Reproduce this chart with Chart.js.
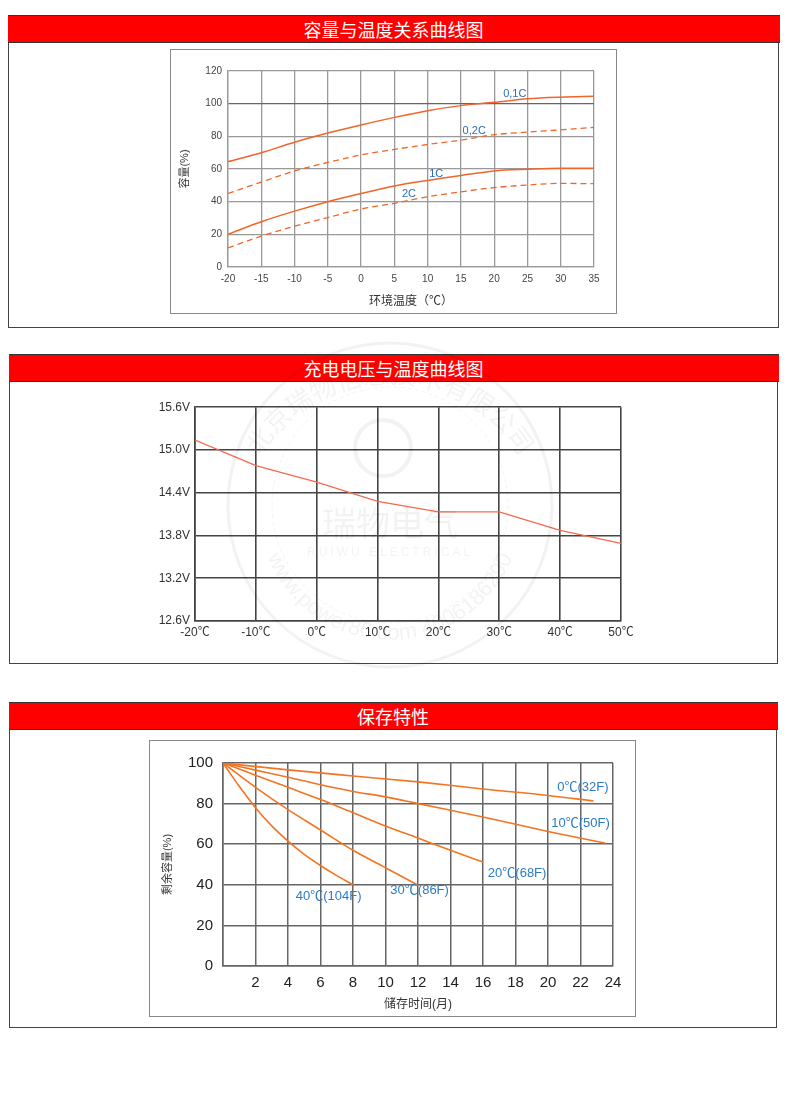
<!DOCTYPE html>
<html>
<head>
<meta charset="utf-8">
<script src="https://cdn.jsdelivr.net/npm/chart.js@4.4.0/dist/chart.umd.min.js"></script>
<style>
  body { margin: 0; background: #fff; width: 790px; height: 1109px; position: relative; overflow: hidden;
         font-family: "Liberation Sans", Arial, "Noto Sans CJK SC", sans-serif; }
  .sec { position: absolute; border: 1.5px solid #444; border-top: none; box-sizing: border-box; }
  .bar { position: absolute; left: -1.5px; right: -1.5px; top: 0; background: #ff0000; color: #fff;
         border-top: 1px solid #333; border-bottom: 1px solid #333; box-sizing: border-box;
         text-align: center; font-family: "Noto Sans CJK SC", sans-serif; font-size: 18px; line-height: 26px; }
  .frame { position: absolute; border: 1.5px solid #888; box-sizing: border-box; }
  canvas { position: absolute; }
  #wm { position: absolute; left: 0; top: 0; pointer-events: none; }
</style>
</head>
<body>

<div class="sec" style="left:8px; top:15px; width:771px; height:313px;">
  <div class="bar">容量与温度关系曲线图</div>
</div>
<div class="frame" style="left:170px; top:49px; width:447px; height:265px;"></div>
<canvas id="c1" width="446" height="264" style="left:170px; top:49px;"></canvas>

<div class="sec" style="left:9px; top:354px; width:769px; height:310px;">
  <div class="bar">充电电压与温度曲线图</div>
</div>
<canvas id="c2" width="490" height="250" style="left:150px; top:395px;"></canvas>

<div class="sec" style="left:9px; top:702px; width:768px; height:326px;">
  <div class="bar">保存特性</div>
</div>
<div class="frame" style="left:149px; top:740px; width:487px; height:277px;"></div>
<canvas id="c3" width="486" height="276" style="left:149px; top:740px;"></canvas>

<svg id="wm" width="790" height="1109">
  <defs>
    <path id="ring" d="M 240 560 A 152 152 0 1 1 540 560"/>
    <path id="ring2" d="M 262 540 A 132 132 0 0 0 518 540"/>
  </defs>
  <g fill="none" stroke="rgba(0,0,0,0.05)">
    <circle cx="390" cy="505" r="162" stroke-width="3"/>
    <circle cx="390" cy="505" r="118" stroke-width="1" stroke-dasharray="4 3"/>
    <circle cx="383" cy="448" r="28" stroke-width="4"/>
  </g>
  <g fill="rgba(0,0,0,0.05)" font-family="Noto Sans CJK SC, sans-serif">
    <text font-size="26"><textPath href="#ring" startOffset="50%" text-anchor="middle">北京瑞物信息技术有限公司</textPath></text>
    <text font-size="22" font-family="Liberation Sans, sans-serif"><textPath href="#ring2" startOffset="50%" text-anchor="middle">www.power86.com 4006186290</textPath></text>
    <text x="390" y="536" font-size="34" text-anchor="middle">瑞物电气</text>
    <text x="390" y="556" font-size="12" text-anchor="middle" letter-spacing="3" font-family="Liberation Sans, sans-serif">RUIWU ELECTRICAL</text>
  </g>
</svg>

<script>
// ---- chart 1: capacity vs temperature ----
const temps1 = [-20, -15, -10, -5, 0, 5, 10, 15, 20, 25, 30, 35];
const cap01C = [64.5, 70, 76.4, 82, 87, 91.6, 95.7, 98.8, 100.8, 103, 104, 104.5];
const cap02C = [45, 52, 58.8, 64, 68.6, 72, 75, 77.7, 81, 82.6, 84, 85.5];
const cap1C  = [20, 27.7, 34.2, 40, 45, 49.6, 53, 56, 58.8, 59.8, 60.4, 60.4];
const cap2C  = [11.7, 18.9, 25, 30.3, 35.5, 39, 43, 46, 48.6, 50.2, 51.2, 51];
const labels1 = [
  { text: '0,1C', x: 23.1, y: 105.7 },
  { text: '0,2C', x: 17, y: 83.5 },
  { text: '1C', x: 11.3, y: 57 },
  { text: '2C', x: 7.2, y: 45 }
];

// ---- chart 2: charge voltage vs temperature ----
const temps2 = [-20, -10, 0, 10, 20, 30, 40, 50];
const volts = [15.14, 14.78, 14.55, 14.28, 14.13, 14.13, 13.87, 13.69];

// ---- chart 3: storage characteristics ----
const months0  = [0, 4, 8, 12, 16, 20, 22.8];
const keep0    = [100, 96.6, 93.6, 90.7, 87.2, 84, 81.3];
const months10 = [0, 2, 4, 6, 8, 10, 12, 16, 20, 23.5];
const keep10   = [100, 96.5, 93, 89.3, 86, 83.3, 80, 73.4, 66.3, 60.6];
const months20 = [0, 2, 4, 6, 8, 10, 12, 14, 16];
const keep20   = [100, 94, 88, 82, 75.5, 69, 63, 57, 51.2];
const months30 = [0, 2, 4, 6, 8, 10, 12];
const keep30   = [100, 88, 77, 67, 57, 48.4, 39.8];
const months40 = [0, 1, 2, 3, 4, 5, 6, 7, 8];
const keep40   = [100, 88.5, 78, 69, 61.5, 55, 49.5, 44.5, 40];
const labels3 = [
  { text: '0℃(32F)', x: 22.15, y: 88 },
  { text: '10℃(50F)', x: 22, y: 70.4 },
  { text: '20℃(68F)', x: 18.1, y: 45.8 },
  { text: '30℃(86F)', x: 12.1, y: 37 },
  { text: '40℃(104F)', x: 6.5, y: 34.5 }
];

const pts = (xs, ys) => xs.map((x, i) => ({ x: x, y: ys[i] }));
const FONT = '"Liberation Sans", Arial, "Noto Sans CJK SC", sans-serif';
Chart.defaults.font.family = FONT;
Chart.defaults.animation = false;

// draws the blue curve names at data positions
const curveLabels = {
  id: 'curveLabels',
  afterDatasetsDraw(chart, args, opts) {
    if (!opts.items) return;
    const c = chart.ctx;
    c.save();
    c.fillStyle = opts.color;
    c.font = opts.font;
    c.textAlign = 'center';
    c.textBaseline = 'middle';
    opts.items.forEach(it => {
      c.fillText(it.text, chart.scales.x.getPixelForValue(it.x), chart.scales.y.getPixelForValue(it.y));
    });
    c.restore();
  }
};
Chart.register(curveLabels);

function line(data, color, dashed, width) {
  return { data: data, borderColor: color, borderWidth: width, borderDash: dashed ? [6, 4] : [],
           pointRadius: 0, cubicInterpolationMode: 'monotone', fill: false };
}

new Chart(document.getElementById('c1'), {
  type: 'line',
  data: {
    datasets: [
      line(pts(temps1, cap01C), '#f0652a', false, 1.5),
      line(pts(temps1, cap02C), '#f0652a', true, 1.3),
      line(pts(temps1, cap1C), '#f0652a', false, 1.5),
      line(pts(temps1, cap2C), '#f0652a', true, 1.3)
    ]
  },
  options: {
    responsive: false,
    layout: { padding: { left: 0, right: 22, top: 22, bottom: 0 } },
    plugins: {
      legend: { display: false }, tooltip: { enabled: false },
      curveLabels: { items: labels1, color: '#2a6db5', font: '11px ' + FONT }
    },
    scales: {
      x: {
        type: 'linear', min: -20, max: 35,
        ticks: { stepSize: 5, color: '#444', font: { size: 10 }, padding: 6,
                 callback: v => v < 0 ? '-' + Math.abs(v) : v },
        grid: { color: '#999', lineWidth: 1.3, drawTicks: false },
        border: { color: '#999', width: 1.3 },
        title: { display: true, text: '环境温度（℃）', color: '#333', font: { size: 12 }, padding: { top: 2 } },
        afterFit: s => { s.height = 46; }
      },
      y: {
        min: 0, max: 120,
        ticks: { stepSize: 20, color: '#444', font: { size: 10 }, padding: 6 },
        grid: { color: ctx => ctx.tick && ctx.tick.value === 100 ? '#666' : '#999', lineWidth: 1.3, drawTicks: false },
        border: { color: '#999', width: 1.3 },
        title: { display: true, text: '容量(%)', color: '#333', font: { size: 11 }, padding: { top: 8, bottom: 0 } },
        afterFit: s => { s.width = 58; }
      }
    }
  }
});

new Chart(document.getElementById('c2'), {
  type: 'line',
  data: { datasets: [ { data: pts(temps2, volts), borderColor: '#f5694d', borderWidth: 1.3,
                        pointRadius: 0, tension: 0, fill: false } ] },
  options: {
    responsive: false,
    layout: { padding: { left: 0, right: 19, top: 10, bottom: 0 } },
    plugins: { legend: { display: false }, tooltip: { enabled: false } },
    scales: {
      x: {
        type: 'linear', min: -20, max: 50,
        ticks: { stepSize: 10, color: '#333', font: { size: 12 }, padding: 4, callback: v => v + '℃' },
        grid: { color: '#444', lineWidth: 1.6, drawTicks: false },
        border: { color: '#444', width: 1.6 },
        afterFit: s => { s.height = 24; }
      },
      y: {
        min: 12.6, max: 15.6,
        ticks: { stepSize: 0.6, color: '#333', font: { size: 12 }, padding: 5, callback: v => v.toFixed(1) + 'V' },
        grid: { color: '#444', lineWidth: 1.6, drawTicks: false },
        border: { color: '#444', width: 1.6 },
        afterFit: s => { s.width = 45; }
      }
    }
  }
});

new Chart(document.getElementById('c3'), {
  type: 'line',
  data: {
    datasets: [
      line(pts(months0, keep0), '#f47421', false, 1.6),
      line(pts(months10, keep10), '#f47421', false, 1.6),
      line(pts(months20, keep20), '#f47421', false, 1.6),
      line(pts(months30, keep30), '#f47421', false, 1.6),
      line(pts(months40, keep40), '#f47421', false, 1.6)
    ]
  },
  options: {
    responsive: false,
    layout: { padding: { left: 0, right: 22, top: 23, bottom: 0 } },
    plugins: {
      legend: { display: false }, tooltip: { enabled: false },
      curveLabels: { items: labels3, color: '#2c7bc4', font: '13px ' + FONT }
    },
    scales: {
      x: {
        type: 'linear', min: 0, max: 24,
        ticks: { stepSize: 2, color: '#222', font: { size: 15 }, padding: 8, callback: v => v === 0 ? '' : v },
        grid: { color: '#666', lineWidth: 1.5, drawTicks: false },
        border: { color: '#666', width: 1.5 },
        title: { display: true, text: '储存时间(月)', color: '#333', font: { size: 12 }, padding: { top: 0 } },
        afterFit: s => { s.height = 50; }
      },
      y: {
        min: 0, max: 100,
        ticks: { stepSize: 20, color: '#222', font: { size: 15 }, padding: 10 },
        grid: { color: '#666', lineWidth: 1.5, drawTicks: false },
        border: { color: '#666', width: 1.5 },
        title: { display: true, text: '剩余容量(%)', color: '#333', font: { size: 11 }, padding: { top: 12, bottom: 0 } },
        afterFit: s => { s.width = 74; }
      }
    }
  }
});
</script>
</body>
</html>
